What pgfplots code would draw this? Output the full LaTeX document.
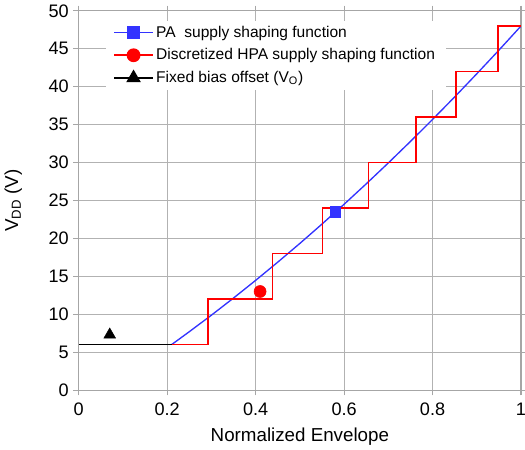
\documentclass[border=0pt]{standalone}
\usepackage{pgfplots}
\pgfplotsset{compat=1.18}
\usepackage{fontspec}
\setmainfont{Liberation Sans}
\begin{document}
\begin{tikzpicture}
\begin{axis}[
    name=ax,
    scale only axis,
    width=330pt, height=283pt,
    xmin=0, xmax=1, ymin=0, ymax=50,
    xtick={0,0.2,...,1}, ytick={0,5,...,50},
    xticklabels={0,0.2,0.4,0.6,0.8,1},
    /pgf/number format/assume math mode=true,
    tick label style={font=\fontsize{13.5}{16}\selectfont},
    label style={font=\fontsize{14}{16}\selectfont},
    xticklabel style={yshift=-2pt},
    yticklabel style={xshift=0pt},
    xlabel={Normalized Envelope},
    ylabel={V$_{\mathrm{DD}}$ (V)},
    grid=major,
    major grid style={gray!60, line width=0.8pt},
    axis line style={gray!70, line width=0.8pt},
    tick style={gray!70, line width=0.8pt},
    tick align=outside,
    major tick length=4pt,
    xlabel style={yshift=-2pt},
    ylabel style={yshift=13pt},
    legend style={at={(0.06,0.975)}, anchor=north west, draw=none, fill=white,
        font=\fontsize{11.6}{13}\selectfont, row sep=3pt, inner xsep=6pt,
        nodes={inner xsep=2pt}},
    legend cell align=left,
    legend image code/.code={
        \draw[mark repeat=2,mark phase=2] plot coordinates {(0cm,0cm) (0.5cm,0cm) (1.0cm,0cm)};},
]
\addplot[blue!80, line width=1pt, forget plot] coordinates {
(0.21,6) (0.25,7.70) (0.30,9.88) (0.35,12.14) (0.40,14.47) (0.45,16.87)
(0.50,19.34) (0.55,21.89) (0.60,24.50) (0.65,27.19) (0.70,29.95) (0.75,32.78)
(0.80,35.68) (0.85,38.65) (0.90,41.70) (0.95,44.81) (1.00,48)};
\addplot[red, line width=1.3pt, forget plot] coordinates {
(0.21,6) (0.293,6) (0.293,12) (0.438,12) (0.438,18) (0.551,18) (0.551,24)
(0.655,24) (0.655,30) (0.762,30) (0.762,36) (0.853,36) (0.853,42)
(0.948,42) (0.948,48) (1.0,48)};
\addplot[black, line width=1.3pt, forget plot] coordinates {(0,6) (0.21,6)};
\addplot[only marks, mark=square*, blue!80, mark size=4pt, forget plot] coordinates {(0.58,23.5)};
\addplot[only marks, mark=*, red, mark size=4.5pt, forget plot] coordinates {(0.41,13)};
\addplot[only marks, mark=triangle*, black, mark size=5pt, forget plot] coordinates {(0.07,7.3)};
\addlegendimage{blue!80, line width=1.3pt, mark=square*, mark size=4pt}
\addlegendentry{PA\ \ supply shaping function}
\addlegendimage{red, line width=1.3pt, mark=*, mark size=4.5pt}
\addlegendentry{Discretized HPA supply shaping function}
\addlegendimage{black, line width=1.3pt, mark=triangle*, mark size=5pt}
\addlegendentry{Fixed bias offset (V$_{\mathrm{O}}$)}
\end{axis}
\pgfresetboundingbox
\path (ax.outer south west) rectangle ([xshift=3pt]ax.south east |- ax.outer north east);
\end{tikzpicture}
\end{document}
